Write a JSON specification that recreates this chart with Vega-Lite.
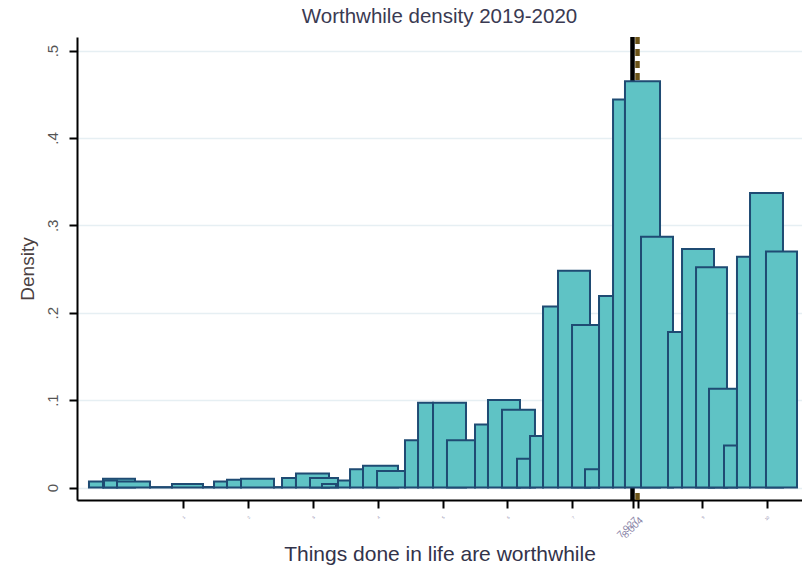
{
  "$schema": "https://vega.github.io/schema/vega-lite/v6.json",
  "width": 725,
  "height": 463,
  "autosize": {"type": "none"},
  "padding": {"left": 77, "top": 37, "right": 0, "bottom": 74},
  "background": "white",
  "config": {"view": {"stroke": null}, "font": "Liberation Sans"},
  "title": {"text": "Worthwhile density 2019-2020", "fontSize": 20.5, "fontWeight": "normal", "color": "#3a3a52", "font": "Liberation Sans", "offset": 7},
  "datasets": {
    "bars": [
      {"x0": -0.449, "x1": -0.233, "h": 0.007},
      {"x0": -0.233, "x1": 0.260, "h": 0.010},
      {"x0": -0.217, "x1": -0.017, "h": 0.008},
      {"x0": -0.017, "x1": 0.491, "h": 0.007},
      {"x0": 0.491, "x1": 0.830, "h": 0.0005},
      {"x0": 0.830, "x1": 1.308, "h": 0.004},
      {"x0": 1.308, "x1": 1.478, "h": 0.0005},
      {"x0": 1.478, "x1": 1.678, "h": 0.007},
      {"x0": 1.678, "x1": 1.894, "h": 0.009},
      {"x0": 1.894, "x1": 2.402, "h": 0.010},
      {"x0": 2.402, "x1": 2.526, "h": 0.0005},
      {"x0": 2.526, "x1": 2.741, "h": 0.011},
      {"x0": 2.741, "x1": 3.250, "h": 0.016},
      {"x0": 2.957, "x1": 3.389, "h": 0.011},
      {"x0": 3.142, "x1": 3.358, "h": 0.004},
      {"x0": 3.389, "x1": 3.574, "h": 0.008},
      {"x0": 3.574, "x1": 3.774, "h": 0.021},
      {"x0": 3.774, "x1": 4.313, "h": 0.025},
      {"x0": 3.990, "x1": 4.421, "h": 0.019},
      {"x0": 4.421, "x1": 4.622, "h": 0.054},
      {"x0": 4.622, "x1": 4.853, "h": 0.097},
      {"x0": 4.853, "x1": 5.361, "h": 0.097},
      {"x0": 5.068, "x1": 5.500, "h": 0.054},
      {"x0": 5.500, "x1": 5.700, "h": 0.072},
      {"x0": 5.700, "x1": 6.193, "h": 0.100},
      {"x0": 5.916, "x1": 6.424, "h": 0.089},
      {"x0": 6.147, "x1": 6.348, "h": 0.033},
      {"x0": 6.348, "x1": 6.548, "h": 0.059},
      {"x0": 6.548, "x1": 6.779, "h": 0.207},
      {"x0": 6.779, "x1": 7.272, "h": 0.248},
      {"x0": 6.995, "x1": 7.411, "h": 0.186},
      {"x0": 7.195, "x1": 7.411, "h": 0.021},
      {"x0": 7.411, "x1": 7.627, "h": 0.219},
      {"x0": 7.627, "x1": 7.811, "h": 0.444},
      {"x0": 7.811, "x1": 8.351, "h": 0.465},
      {"x0": 8.058, "x1": 8.551, "h": 0.287},
      {"x0": 8.474, "x1": 8.690, "h": 0.178},
      {"x0": 8.690, "x1": 9.183, "h": 0.273},
      {"x0": 8.906, "x1": 9.383, "h": 0.252},
      {"x0": 9.106, "x1": 9.537, "h": 0.113},
      {"x0": 9.337, "x1": 9.537, "h": 0.048},
      {"x0": 9.537, "x1": 9.738, "h": 0.264},
      {"x0": 9.738, "x1": 10.246, "h": 0.337},
      {"x0": 9.984, "x1": 10.462, "h": 0.270}
    ],
    "means": [
      {"mean": 7.927, "series": "2019"},
      {"mean": 8.004, "series": "2020"}
    ]
  },
  "layer": [
    {
      "data": {"name": "means"},
      "transform": [{"filter": "datum.series == '2019'"}],
      "mark": {"type": "rule", "color": "#000000", "strokeWidth": 4.5},
      "encoding": {
        "x": {
          "field": "mean",
          "type": "quantitative",
          "title": "Things done in life are worthwhile",
          "scale": {"domain": [-0.6335, 10.539], "nice": false, "zero": false},
          "axis": {
            "values": [1, 2, 3, 4, 5, 6, 7, 9, 10, 7.927, 8.004],
            "labelExpr": "datum.value > 7.5 && datum.value < 8.5 ? format(datum.value, '.3f') : format(datum.value, 'd')",
            "labelAngle": -45,
            "labelFontSize": {"condition": {"test": "datum.value > 7.5 && datum.value < 8.5", "value": 10}, "value": 4},
            "labelColor": "#8a86a8",
            "labelPadding": 7,
            "labelOverlap": false,
            "labelFlush": false,
            "tickSize": 8,
            "tickWidth": 2,
            "tickColor": "#000000",
            "domainColor": "#000000",
            "domainWidth": 2,
            "grid": false,
            "titleFontSize": 21,
            "titleFontWeight": "normal",
            "titleColor": "#33334a",
            "titlePadding": 4
          }
        }
      }
    },
    {
      "data": {"name": "means"},
      "transform": [{"filter": "datum.series == '2020'"}],
      "mark": {"type": "rule", "color": "#6b5318", "strokeWidth": 4.5, "strokeDash": [7, 5]},
      "encoding": {
        "x": {"field": "mean", "type": "quantitative", "title": "Things done in life are worthwhile"}
      }
    },
    {
      "data": {"name": "bars"},
      "mark": {"type": "bar", "fill": "#5fc3c5", "stroke": "#1f4b73", "strokeWidth": 2},
      "encoding": {
        "x": {"field": "x0", "type": "quantitative", "title": "Things done in life are worthwhile"},
        "x2": {"field": "x1"},
        "y": {
          "field": "h",
          "type": "quantitative",
          "title": "Density",
          "scale": {"domain": [-0.0143, 0.5155], "nice": false, "zero": false},
          "axis": {
            "values": [0, 0.1, 0.2, 0.3, 0.4, 0.5],
            "labelExpr": "datum.value == 0 ? '0' : replace(format(datum.value, '.1f'), '0.', '.')",
            "labelAngle": -90,
            "labelFontSize": 15,
            "labelColor": "#555555",
            "labelPadding": 9,
            "tickSize": 8,
            "tickWidth": 2,
            "tickColor": "#000000",
            "domainColor": "#000000",
            "domainWidth": 2,
            "grid": true,
            "gridColor": "#e6eff3",
            "gridWidth": 1.5,
            "titleFontSize": 19,
            "titleFontWeight": "normal",
            "titleColor": "#4a4040",
            "titlePadding": 8
          }
        },
        "y2": {"datum": 0}
      }
    }
  ]
}
